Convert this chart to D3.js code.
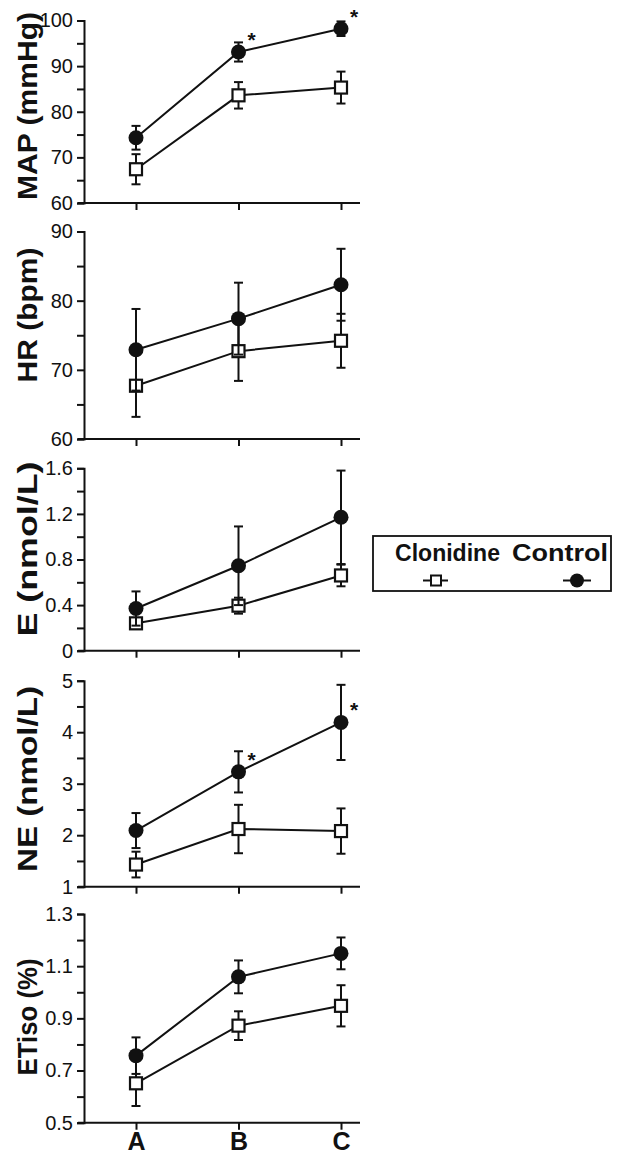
<!DOCTYPE html>
<html><head><meta charset="utf-8">
<script src="https://cdn.jsdelivr.net/npm/d3@7"></script>
<style>html,body{margin:0;padding:0;background:#fff;}svg{display:block;}</style>
</head><body>
<svg id="chart" width="639" height="1158"></svg>
<script>
const categories = ["A", "B", "C"];
const seriesNames = ["Clonidine", "Control"];

const mapControl = [74.3, 93.1, 98.2];
const mapControlErr = [2.6, 2.1, 1.6];
const mapClonidine = [67.4, 83.6, 85.3];
const mapClonidineErr = [3.3, 2.9, 3.5];
const mapSig = [false, true, true];

const hrControl = [72.9, 77.4, 82.3];
const hrControlErr = [5.9, 5.2, 5.2];
const hrClonidine = [67.7, 72.7, 74.2];
const hrClonidineErr = [4.5, 4.3, 3.9];
const hrSig = [false, false, false];

const eControl = [0.37, 0.745, 1.17];
const eControlErr = [0.15, 0.345, 0.41];
const eClonidine = [0.24, 0.395, 0.66];
const eClonidineErr = [0.03, 0.07, 0.095];
const eSig = [false, false, false];

const neControl = [2.09, 3.23, 4.19];
const neControlErr = [0.34, 0.40, 0.73];
const neClonidine = [1.43, 2.12, 2.08];
const neClonidineErr = [0.25, 0.47, 0.44];
const neSig = [false, true, true];

const etControl = [0.757, 1.059, 1.149];
const etControlErr = [0.07, 0.063, 0.061];
const etClonidine = [0.651, 0.872, 0.948];
const etClonidineErr = [0.087, 0.055, 0.079];
const etSig = [false, false, false];

const yTitles = ["MAP (mmHg)", "HR (bpm)", "E (nmol/L)", "NE (nmol/L)", "ETiso (%)"];
const yTickLabels = [
  ["60", "70", "80", "90", "100"],
  ["60", "70", "80", "90"],
  ["0", "0.4", "0.8", "1.2", "1.6"],
  ["1", "2", "3", "4", "5"],
  ["0.5", "0.7", "0.9", "1.1", "1.3"]
];
const yMinorTicks = [
  [65, 75, 85, 95],
  [65, 75, 85],
  [0.2, 0.6, 1.0, 1.4],
  [1.5, 2.5, 3.5, 4.5],
  [0.6, 0.8, 1.0, 1.2]
];
const yDomains = [[60, 100], [60, 90], [0, 1.6], [1, 5], [0.5, 1.3]];

// layout (pixels)
const panelRanges = [[203, 20.5], [439, 231.5], [650.7, 468.3], [886.7, 680.7], [1122.7, 914]];
const titleCenters = [106, 315, 549, 779, 1017];
const titleLengths = [188, 135, 175, 186, 117];
const axisX = 84;

const panels = [
  {ctl: mapControl, ctlErr: mapControlErr, clo: mapClonidine, cloErr: mapClonidineErr, sig: mapSig},
  {ctl: hrControl, ctlErr: hrControlErr, clo: hrClonidine, cloErr: hrClonidineErr, sig: hrSig},
  {ctl: eControl, ctlErr: eControlErr, clo: eClonidine, cloErr: eClonidineErr, sig: eSig},
  {ctl: neControl, ctlErr: neControlErr, clo: neClonidine, cloErr: neClonidineErr, sig: neSig},
  {ctl: etControl, ctlErr: etControlErr, clo: etClonidine, cloErr: etClonidineErr, sig: etSig}
];

const svg = d3.select("#chart");
const x = d3.scalePoint().domain(categories).range([136, 341]);
const ink = "#111";

panels.forEach((p, i) => {
  const y = d3.scaleLinear().domain(yDomains[i]).range(panelRanges[i]);
  const g = svg.append("g");

  // y axis
  const majors = yTickLabels[i].map(Number);
  const yAxis = d3.axisLeft(y).tickValues(majors).tickFormat((d, k) => yTickLabels[i][k]).tickSizeOuter(0).tickSize(7).tickPadding(4);
  const ya = g.append("g").attr("transform", `translate(${axisX},0)`).call(yAxis);
  ya.select(".domain").attr("stroke", ink).attr("stroke-width", 2);
  ya.selectAll(".tick line").attr("stroke", ink).attr("stroke-width", 2);
  ya.selectAll(".tick text").attr("font-family", "Liberation Sans, Arial, sans-serif").attr("font-size", 20).attr("fill", ink);
  const yMinor = d3.axisLeft(y).tickValues(yMinorTicks[i]).tickFormat("").tickSizeOuter(0).tickSize(7);
  const ym = g.append("g").attr("transform", `translate(${axisX},0)`).call(yMinor);
  ym.select(".domain").remove();
  ym.selectAll(".tick line").attr("stroke", ink).attr("stroke-width", 2);

  // x axis
  const xAxis = d3.axisBottom(x).tickSize(7).tickSizeOuter(0).tickFormat(i === panels.length - 1 ? (d => d) : "");
  const xa = g.append("g").attr("transform", `translate(0,${y.range()[0]})`).call(xAxis);
  xa.select(".domain").attr("d", `M${axisX - 6},0H360`).attr("stroke", ink).attr("stroke-width", 2);
  xa.selectAll(".tick line").attr("stroke", ink).attr("stroke-width", 2);
  xa.selectAll(".tick text").attr("font-family", "Liberation Sans, Arial, sans-serif").attr("font-weight", "bold")
    .attr("font-size", 25).attr("fill", ink).attr("y", 27).attr("dy", null);

  // title
  g.append("text")
    .attr("transform", `translate(37,${titleCenters[i]}) rotate(-90)`)
    .attr("text-anchor", "middle")
    .attr("font-family", "Liberation Sans, Arial, sans-serif").attr("font-weight", "bold").attr("font-size", 28)
    .attr("textLength", titleLengths[i]).attr("lengthAdjust", "spacingAndGlyphs")
    .attr("fill", ink).text(yTitles[i]);

  const line = d3.line().x((d, k) => x(categories[k])).y(d => y(d));
  const drawSeries = (vals, errs, type) => {
    const s = g.append("g");
    s.append("path").attr("d", line(vals)).attr("fill", "none").attr("stroke", ink).attr("stroke-width", 2);
    vals.forEach((v, k) => {
      const cx = x(categories[k]);
      const lo = y(v - errs[k]), hi = y(v + errs[k]);
      s.append("line").attr("x1", cx).attr("x2", cx).attr("y1", lo).attr("y2", hi).attr("stroke", ink).attr("stroke-width", 2);
      [lo, hi].forEach(yy => s.append("line").attr("x1", cx - 4.5).attr("x2", cx + 4.5).attr("y1", yy).attr("y2", yy).attr("stroke", ink).attr("stroke-width", 2));
    });
    vals.forEach((v, k) => {
      const cx = x(categories[k]), cy = y(v);
      if (type === "square") {
        s.append("rect").attr("x", cx - 6).attr("y", cy - 6).attr("width", 12).attr("height", 12)
          .attr("fill", "#fff").attr("stroke", ink).attr("stroke-width", 2.2);
      } else {
        s.append("circle").attr("cx", cx).attr("cy", cy).attr("r", 7.5).attr("fill", ink);
      }
    });
  };
  drawSeries(p.clo, p.cloErr, "square");
  drawSeries(p.ctl, p.ctlErr, "circle");

  p.sig.forEach((sg, k) => {
    if (!sg) return;
    g.append("text").attr("x", x(categories[k]) + 13).attr("y", y(p.ctl[k]) - 5)
      .attr("text-anchor", "middle").attr("font-family", "Liberation Sans, Arial, sans-serif").attr("font-weight", "bold")
      .attr("font-size", 21).attr("fill", ink).text("*");
  });
});

// legend
const lg = svg.append("g");
lg.append("rect").attr("x", 373).attr("y", 536).attr("width", 238).attr("height", 55)
  .attr("fill", "#fff").attr("stroke", ink).attr("stroke-width", 1.8);
const legendText = [{t: seriesNames[0], x: 395, w: 105}, {t: seriesNames[1], x: 512, w: 96}];
legendText.forEach(d => lg.append("text").attr("x", d.x).attr("y", 561)
  .attr("font-family", "Liberation Sans, Arial, sans-serif").attr("font-weight", "bold").attr("font-size", 24)
  .attr("textLength", d.w).attr("lengthAdjust", "spacingAndGlyphs").attr("fill", ink).text(d.t));
lg.append("line").attr("x1", 423).attr("x2", 448).attr("y1", 580.5).attr("y2", 580.5).attr("stroke", ink).attr("stroke-width", 2);
lg.append("rect").attr("x", 431).attr("y", 575.5).attr("width", 10).attr("height", 10).attr("fill", "#fff").attr("stroke", ink).attr("stroke-width", 2);
lg.append("line").attr("x1", 563).attr("x2", 591).attr("y1", 580.5).attr("y2", 580.5).attr("stroke", ink).attr("stroke-width", 2);
lg.append("circle").attr("cx", 577).attr("cy", 580.5).attr("r", 7).attr("fill", ink);
</script>
</body></html>
